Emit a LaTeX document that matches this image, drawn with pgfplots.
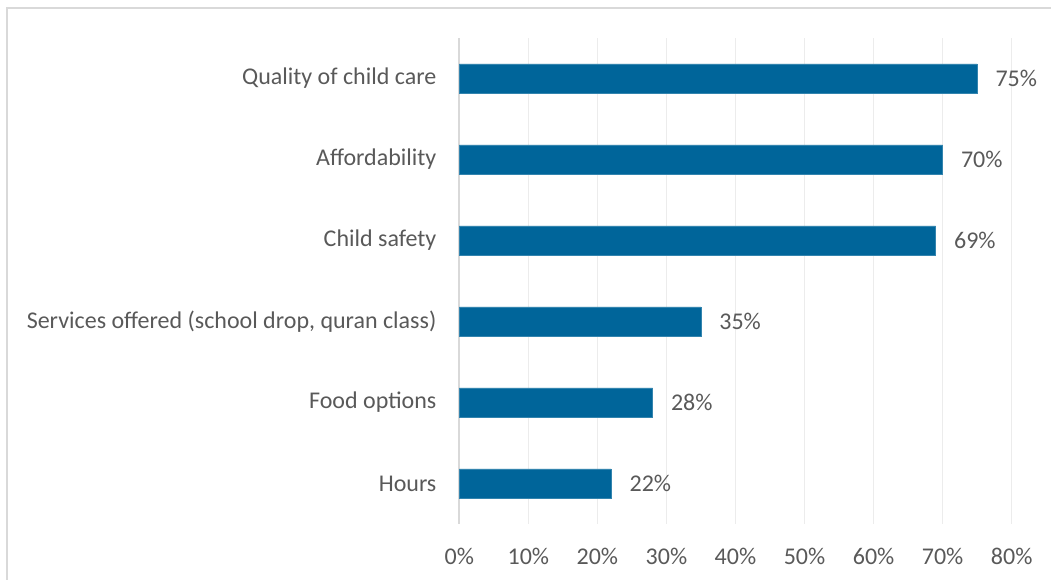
\documentclass[border=0pt]{standalone}
\usepackage{pgfplots}
\pgfplotsset{compat=1.18}
\usepackage{fontspec}
\setmainfont{Carlito}
\definecolor{barblue}{RGB}{0,101,154}
\definecolor{txt}{RGB}{89,89,89}
\definecolor{gridc}{RGB}{236,236,236}
\definecolor{axc}{RGB}{217,217,217}
\begin{document}
\begin{tikzpicture}
\useasboundingbox (-344.5pt,-42pt) rectangle (443.8pt,393pt);
\draw[axc, line width=1.5pt] (-339.2pt,-60pt) -- (-339.2pt,387pt) -- (470pt,387pt);
\begin{axis}[
  at={(0pt,0pt)}, anchor=south west,
  scale only axis, width=414.3pt, height=364.5pt,
  xbar, bar width=21.75pt,
  xmin=0, xmax=80, ymin=-0.5, ymax=5.5,
  ytick={0,1,2,3,4,5},
  yticklabels={Hours,Food options,{Services offered (school drop, quran class)},Child safety,Affordability,Quality of child care},
  xtick={0,10,...,80},
  xticklabel={\pgfmathprintnumber{\tick}\%},
  /pgf/number format/assume math mode=true,
  xmajorgrids, grid style={gridc, line width=0.9pt},
  extra x ticks={0}, extra x tick labels={},
  extra x tick style={grid style={axc, line width=1.5pt}},
  axis line style={draw=none},
  major tick length=0pt,
  tick label style={font=\fontsize{18}{21}\selectfont, text=txt},
  xticklabel style={anchor=center, yshift=-24pt},
  yticklabel style={inner sep=0pt, xshift=-17pt},
  nodes near coords={\pgfmathprintnumber{\pgfplotspointmeta}\%},
  nodes near coords style={text=txt, font=\fontsize{18}{21}\selectfont, anchor=west, inner sep=0pt, xshift=13.5pt},
  clip=false,
]
\addplot[fill=barblue, draw=barblue!80!white, line width=0.6pt] coordinates {(22,0) (28,1) (35,2) (69,3) (70,4) (75,5)};
\end{axis}
\end{tikzpicture}
\end{document}
